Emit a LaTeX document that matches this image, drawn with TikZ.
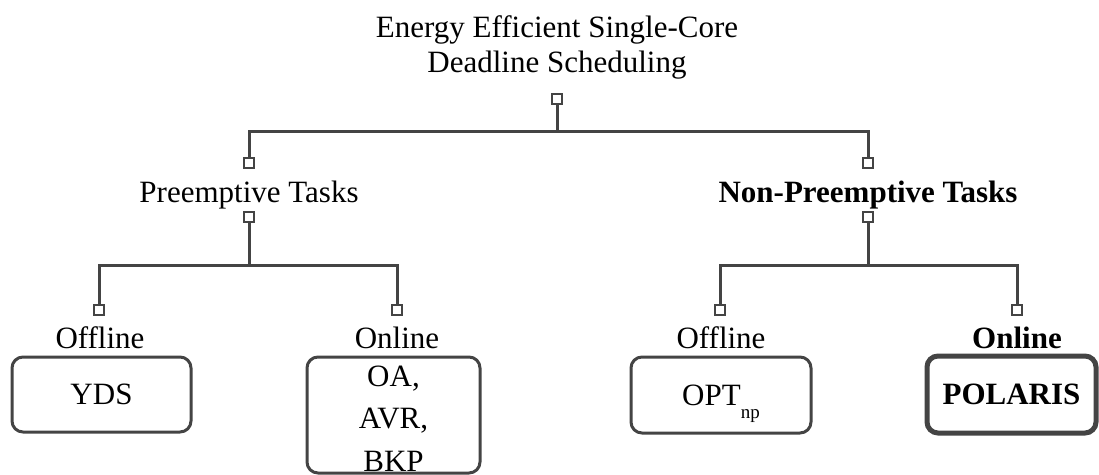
\documentclass[tikz,border=0pt]{standalone}
\usepackage{fontspec}
\setmainfont{Liberation Serif}
\definecolor{linegray}{HTML}{444444}
\tikzset{
  txt/.style={inner sep=0pt, anchor=base, font=\fontsize{31}{36}\selectfont},
  hook/.style={draw=linegray, line width=2.6pt, fill=white, minimum size=10pt, inner sep=0pt, rectangle},
  conn/.style={draw=linegray, line width=3pt},
  algbox/.style={draw=linegray, line width=3pt, rounded corners=11pt, inner sep=0pt, align=center,
    font=\fontsize{31}{43}\selectfont},
}
\begin{document}
\begin{tikzpicture}[x=1pt, y=-1pt]
\useasboundingbox (0,0) rectangle (1099,474);

% root (base anchor sits on the last line)
\node[txt, align=center, font=\fontsize{31}{35}\selectfont] (root) at (557,72) {Energy Efficient Single-Core\\Deadline Scheduling};
\node[hook] (h0) at (557,99) {};

% first level
\node[hook] (hPin) at (249,163) {};
\node[txt] (pre) at (249,202) {Preemptive Tasks};
\node[hook] (hPout) at (249,217) {};

\node[hook] (hNin) at (868,163) {};
\node[txt, font=\fontsize{31}{36}\selectfont\bfseries] (npre) at (868,202) {Non-Preemptive Tasks};
\node[hook] (hNout) at (868,217) {};

% second level
\node[hook] (hPoff) at (99,310) {};
\node[txt] (poff) at (100,348) {Offline};
\node[hook] (hPon) at (397,310) {};
\node[txt] (pon) at (397,348) {Online};

\node[hook] (hNoff) at (720,310) {};
\node[txt] (noff) at (721,348) {Offline};
\node[hook] (hNon) at (1017,310) {};
\node[txt, font=\fontsize{31}{36}\selectfont\bfseries] (non) at (1017,348) {Online};

% algorithm boxes
\node[algbox, minimum width=179pt, minimum height=75pt] (yds) at (101.5,394.5) {YDS};
\node[algbox, minimum width=173pt, minimum height=116pt] (onl) at (393.5,415) {};
\node[txt, align=center, font=\fontsize{31}{42.5}\selectfont] (onltxt) at (393.5,471) {OA,\\AVR,\\BKP};
\node[algbox, minimum width=180pt, minimum height=76pt] (opt) at (721,395)
  {OPT\smash{\raisebox{-13pt}{\fontsize{19}{19}\selectfont np}}};
\node[algbox, line width=5pt, minimum width=169pt, minimum height=77pt,
  font=\fontsize{31}{43}\selectfont\bfseries] (pol) at (1011.5,394.5) {POLARIS};

% junctions
\coordinate (j0) at (557,131);
\coordinate (jP) at (249,265);
\coordinate (jN) at (868,265);

% connectors
\draw[conn] (h0.south) -- (j0) -| (hPin.north);
\draw[conn] (j0) -| (hNin.north);
\draw[conn] (hPout.south) -- (jP) -| (hPoff.north);
\draw[conn] (jP) -| (hPon.north);
\draw[conn] (hNout.south) -- (jN) -| (hNoff.north);
\draw[conn] (jN) -| (hNon.north);

% redraw hooks on top of connector ends
\foreach \h in {h0,hPin,hPout,hNin,hNout,hPoff,hPon,hNoff,hNon}
  \node[hook] at (\h) {};
\end{tikzpicture}
\end{document}
